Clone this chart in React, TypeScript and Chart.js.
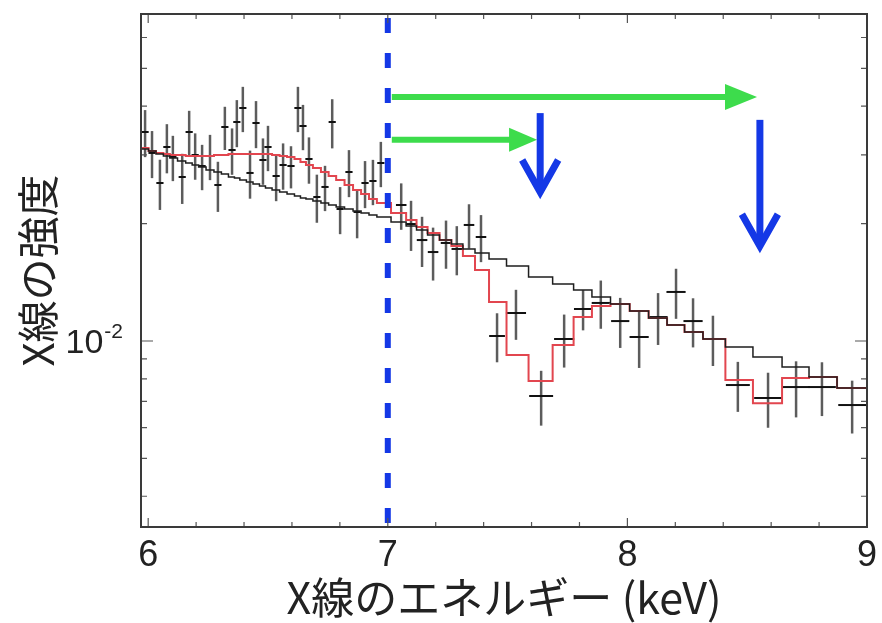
import React, { useEffect, useRef } from 'react';
import { Chart, registerables } from 'chart.js';

Chart.register(...registerables);

// ---- Data ----
const energy = [
  5.987, 6.016, 6.049, 6.078, 6.103, 6.142, 6.171, 6.196, 6.225, 6.258,
  6.291, 6.32, 6.35, 6.37, 6.395, 6.425, 6.45, 6.479, 6.5, 6.534,
  6.563, 6.596, 6.625, 6.646, 6.671, 6.704, 6.738, 6.768, 6.801, 6.838,
  6.872, 6.905, 6.938, 6.971,
  7.056, 7.097, 7.143, 7.189, 7.243, 7.288, 7.339, 7.389, 7.456, 7.535,
  7.64, 7.736, 7.815, 7.889, 7.97, 8.049, 8.128, 8.203, 8.274, 8.357,
  8.461, 8.587, 8.704, 8.812, 8.938,
];

const energyHalfWidth = [
  0.015, 0.015, 0.015, 0.015, 0.015, 0.015, 0.015, 0.015, 0.015, 0.015,
  0.015, 0.015, 0.015, 0.015, 0.015, 0.015, 0.015, 0.015, 0.015, 0.015,
  0.015, 0.015, 0.015, 0.015, 0.015, 0.015, 0.015, 0.015, 0.015, 0.015,
  0.015, 0.015, 0.015, 0.015,
  0.022, 0.022, 0.022, 0.022, 0.022, 0.022, 0.022, 0.022, 0.033, 0.042,
  0.05, 0.042, 0.038, 0.038, 0.038, 0.04, 0.04, 0.04, 0.04, 0.04,
  0.05, 0.058, 0.058, 0.058, 0.058,
];

const counts = [
  0.03435, 0.03035, 0.02542, 0.03144, 0.02964, 0.02633, 0.03435, 0.02999, 0.0281, 0.02981,
  0.02512, 0.03537, 0.03088, 0.03643, 0.03958, 0.02697, 0.03622, 0.02911, 0.03144, 0.02649,
  0.02827, 0.0281, 0.03958, 0.03558, 0.02929, 0.0234, 0.02483, 0.03643, 0.0218, 0.02712,
  0.02142, 0.02542, 0.02572, 0.0286,
  0.02232, 0.01995, 0.01815, 0.01691, 0.01784, 0.01722, 0.01984, 0.01848, 0.0103, 0.0118,
  0.007228, 0.01012, 0.01208, 0.01252, 0.01125, 0.01024, 0.01152, 0.01336, 0.01125, 0.01012,
  0.007712, 0.007143, 0.007621, 0.007621, 0.006853,
];

const countErr = [
  0.00474, 0.00419, 0.00374, 0.00453, 0.00394, 0.00387, 0.00457, 0.00408, 0.00374, 0.00396,
  0.00369, 0.00449, 0.0042, 0.00503, 0.00526, 0.0038, 0.005, 0.00396, 0.00418, 0.00366,
  0.00384, 0.00348, 0.00526, 0.00473, 0.00398, 0.0033, 0.0033, 0.00525, 0.00301, 0.00374,
  0.00308, 0.00351, 0.00342, 0.0038,
  0.00304, 0.00293, 0.00267, 0.00262, 0.00252, 0.00248, 0.00258, 0.00255, 0.00148, 0.00173,
  0.00116, 0.00157, 0.00143, 0.00177, 0.00165, 0.00171, 0.00175, 0.00196, 0.00162, 0.00149,
  0.00113, 0.00115, 0.00125, 0.0012, 0.00106,
];

// continuum-only model (black)
const continuumModel = [
  0.03107, 0.0307, 0.03016, 0.02981, 0.02946, 0.02894, 0.0286, 0.02827, 0.02794, 0.02745,
  0.02712, 0.0268, 0.02633, 0.02618, 0.02587, 0.02557, 0.02527, 0.02497, 0.02468, 0.02439,
  0.0241, 0.02382, 0.02354, 0.02326, 0.02313, 0.02286, 0.02259, 0.02232, 0.02206, 0.0218,
  0.02155, 0.02129, 0.02104, 0.0208,
  0.02019, 0.01972, 0.01926, 0.0187, 0.01816, 0.01773, 0.01722, 0.01681, 0.01623, 0.01557,
  0.01459, 0.014, 0.01351, 0.01297, 0.01244, 0.01194, 0.01145, 0.01099, 0.01055, 0.01012,
  0.00965, 0.0091, 0.00858, 0.00809, 0.00758,
];

// model with emission / absorption features (red)
const featureModel = [
  0.03125, 0.0307, 0.03034, 0.03016, 0.02999, 0.02999, 0.02981, 0.02981, 0.02981, 0.02981,
  0.02999, 0.02999, 0.03016, 0.03016, 0.03016, 0.03016, 0.03016, 0.03016, 0.03016, 0.02999,
  0.02981, 0.02964, 0.02929, 0.02877, 0.02827, 0.02777, 0.02712, 0.02649, 0.02587, 0.02512,
  0.02439, 0.02382, 0.02313, 0.02259,
  0.02129, 0.02043, 0.0196, 0.01892, 0.01816, 0.01752, 0.01652, 0.01521, 0.01259, 0.00921,
  0.0079, 0.00977, 0.01152, 0.0123, 0.01244, 0.01194, 0.01145, 0.01099, 0.01055, 0.01012,
  0.00794, 0.00693, 0.00804, 0.00809, 0.00758,
];

const energyRange = [5.97, 9.0];
const intensityRange = [0.0033358, 0.06893];
const energyTicks = [
  6, 6.2, 6.4, 6.6, 6.8, 7, 7.2, 7.4, 7.6, 7.8, 8, 8.2, 8.4, 8.6, 8.8, 9,
];
const intensityTicks = [
  0.004, 0.005, 0.006, 0.007, 0.008, 0.009, 0.01, 0.02, 0.03, 0.04, 0.05, 0.06,
];
const labelledIntensity = 0.01;
const labelBase = '10';
const labelExponent = '-2';

// annotations
const thresholdEnergy = 7.0;
const greenArrowStart = [7.0, 7.0];
const greenArrowEnd = [8.541, 7.623];
const greenArrowLevel = [0.0422, 0.0328];
const blueArrowEnergy = [7.636, 8.553];
const blueArrowTop = [0.0384, 0.0369];
const blueArrowTip = [0.0241, 0.0175];

const FONT_LATIN = '"Liberation Sans", Arial, Helvetica, sans-serif';
const FONT_CJK = '"Noto Sans CJK JP", "Liberation Sans", sans-serif';

function modelPoints(values: number[]) {
  const pts = energy.map((e, i) => ({ x: e, y: values[i] }));
  return [
    { x: energyRange[0], y: values[0] },
    ...pts,
    { x: energyRange[1], y: values[values.length - 1] },
  ];
}

const overlayPlugin = {
  id: 'overlay',
  beforeDatasetsDraw(chart: any) {
    const { ctx, chartArea, scales } = chart;
    const x = scales.x;
    const y = scales.y;
    ctx.save();
    ctx.beginPath();
    ctx.rect(chartArea.left, chartArea.top, chartArea.right - chartArea.left, chartArea.bottom - chartArea.top);
    ctx.clip();
    for (let i = 0; i < energy.length; i++) {
      const px = x.getPixelForValue(energy[i]);
      const py = y.getPixelForValue(counts[i]);
      const top = y.getPixelForValue(counts[i] + countErr[i]);
      const bot = y.getPixelForValue(counts[i] - countErr[i]);
      ctx.strokeStyle = '#5c5c5c';
      ctx.lineWidth = 2.5;
      ctx.beginPath();
      ctx.moveTo(px, top);
      ctx.lineTo(px, bot);
      ctx.stroke();
      const l = x.getPixelForValue(energy[i] - energyHalfWidth[i]);
      const r = x.getPixelForValue(energy[i] + energyHalfWidth[i]);
      ctx.strokeStyle = '#111';
      ctx.lineWidth = 2;
      ctx.beginPath();
      ctx.moveTo(l, py);
      ctx.lineTo(r, py);
      ctx.stroke();
    }
    ctx.restore();
  },
  afterDatasetsDraw(chart: any) {
    const { ctx, chartArea, scales } = chart;
    const x = scales.x;
    const y = scales.y;
    ctx.save();
    // blue dashed threshold line
    const tx = x.getPixelForValue(thresholdEnergy);
    ctx.strokeStyle = '#1438e6';
    ctx.lineWidth = 6;
    ctx.setLineDash([15, 20]);
    ctx.lineDashOffset = 31;
    ctx.beginPath();
    ctx.moveTo(tx, chartArea.top);
    ctx.lineTo(tx, chartArea.bottom);
    ctx.stroke();
    ctx.setLineDash([]);

    // green arrows
    ctx.strokeStyle = '#3ddc4c';
    ctx.fillStyle = '#3ddc4c';
    for (let i = 0; i < greenArrowStart.length; i++) {
      const x0 = x.getPixelForValue(greenArrowStart[i]) + 4;
      const x1 = x.getPixelForValue(greenArrowEnd[i]);
      const yy = y.getPixelForValue(greenArrowLevel[i]);
      const headLen = i === 0 ? 32 : 28;
      const headHalf = i === 0 ? 13 : 12;
      ctx.lineWidth = 6;
      ctx.beginPath();
      ctx.moveTo(x0, yy);
      ctx.lineTo(x1 - headLen + 2, yy);
      ctx.stroke();
      ctx.beginPath();
      ctx.moveTo(x1, yy);
      ctx.lineTo(x1 - headLen, yy - headHalf);
      ctx.lineTo(x1 - headLen, yy + headHalf);
      ctx.closePath();
      ctx.fill();
    }

    // blue downward arrows
    ctx.strokeStyle = '#1438e6';
    ctx.lineWidth = 7;
    ctx.lineCap = 'butt';
    ctx.lineJoin = 'miter';
    for (let i = 0; i < blueArrowEnergy.length; i++) {
      const bx = x.getPixelForValue(blueArrowEnergy[i]);
      const yt = y.getPixelForValue(blueArrowTop[i]);
      const yb = y.getPixelForValue(blueArrowTip[i]);
      ctx.beginPath();
      ctx.moveTo(bx, yt);
      ctx.lineTo(bx, yb - 4);
      ctx.stroke();
      ctx.beginPath();
      ctx.moveTo(bx - 18, yb - 32);
      ctx.lineTo(bx, yb);
      ctx.lineTo(bx + 18, yb - 32);
      ctx.stroke();
    }
    ctx.restore();
  },
  afterDraw(chart: any) {
    const { ctx, chartArea, scales } = chart;
    const x = scales.x;
    const y = scales.y;
    ctx.save();
    ctx.strokeStyle = '#555';
    ctx.lineWidth = 1.2;
    ctx.beginPath();
    for (const v of energyTicks) {
      const px = x.getPixelForValue(v);
      const len = Number.isInteger(v) ? 9 : 5;
      ctx.moveTo(px, chartArea.bottom);
      ctx.lineTo(px, chartArea.bottom - len);
      ctx.moveTo(px, chartArea.top);
      ctx.lineTo(px, chartArea.top + len);
    }
    for (const v of intensityTicks) {
      const py = y.getPixelForValue(v);
      const len = Math.abs(v - labelledIntensity) < 1e-12 ? 12 : 6;
      ctx.moveTo(chartArea.left, py);
      ctx.lineTo(chartArea.left + len, py);
      ctx.moveTo(chartArea.right, py);
      ctx.lineTo(chartArea.right - len, py);
    }
    ctx.stroke();
    ctx.strokeStyle = '#3a3a3a';
    ctx.lineWidth = 2;
    ctx.strokeRect(chartArea.left, chartArea.top, chartArea.right - chartArea.left, chartArea.bottom - chartArea.top);

    // y tick label with superscript exponent
    const ly = y.getPixelForValue(labelledIntensity);
    const right = chartArea.left - 18;
    ctx.fillStyle = '#222';
    ctx.textBaseline = 'alphabetic';
    ctx.textAlign = 'left';
    ctx.font = `21px ${FONT_LATIN}`;
    const wExp = ctx.measureText(labelExponent).width;
    ctx.font = `34px ${FONT_LATIN}`;
    const wBase = ctx.measureText(labelBase).width;
    const startX = right - wExp - wBase - 1;
    ctx.fillText(labelBase, startX, ly + 12);
    ctx.font = `21px ${FONT_LATIN}`;
    ctx.fillText(labelExponent, startX + wBase + 1, ly - 3);
    ctx.restore();
  },
};

export default function App() {
  const canvasRef = useRef<HTMLCanvasElement | null>(null);

  useEffect(() => {
    const canvas = canvasRef.current;
    if (!canvas) return;
    const chart = new Chart(canvas, {
      type: 'line',
      data: {
        datasets: [
          {
            label: 'model',
            data: modelPoints(featureModel),
            borderColor: '#e2464f',
            borderWidth: 2,
            pointRadius: 0,
            stepped: 'middle',
            fill: false,
            order: 1,
          },
          {
            label: 'continuum',
            data: modelPoints(continuumModel),
            borderColor: '#1e1e1e',
            borderWidth: 1.5,
            pointRadius: 0,
            stepped: 'middle',
            fill: false,
            order: 0,
          },
        ],
      },
      options: {
        responsive: false,
        animation: false,
        layout: { padding: { top: 14, right: 15, left: 0, bottom: 0 } },
        plugins: { legend: { display: false }, tooltip: { enabled: false } },
        scales: {
          x: {
            type: 'linear',
            min: energyRange[0],
            max: energyRange[1],
            afterBuildTicks: (s: any) => {
              s.ticks = energyTicks.map((v) => ({ value: v }));
            },
            afterFit: (s: any) => {
              s.height = 96;
              s.paddingLeft = 0;
              s.paddingRight = 0;
            },
            grid: { display: false, drawTicks: false },
            border: { display: false },
            ticks: {
              autoSkip: false,
              maxRotation: 0,
              padding: 7,
              color: '#222',
              font: { family: FONT_LATIN, size: 36 },
              callback: (v: any) => (Number.isInteger(v) ? String(v) : ''),
            },
            title: {
              display: true,
              text: 'X線のエネルギー (keV)',
              color: '#222',
              font: { family: FONT_CJK, size: 43 },
              padding: { top: 0, bottom: 0 },
            },
          },
          y: {
            type: 'logarithmic',
            min: intensityRange[0],
            max: intensityRange[1],
            afterBuildTicks: (s: any) => {
              s.ticks = intensityTicks.map((v) => ({ value: v }));
            },
            afterFit: (s: any) => {
              s.width = 141;
              s.paddingTop = 0;
              s.paddingBottom = 0;
            },
            grid: { display: false, drawTicks: false },
            border: { display: false },
            ticks: {
              autoSkip: false,
              padding: 14,
              color: '#222',
              font: { family: FONT_LATIN, size: 32 },
              callback: () => '',
            },
            title: {
              display: true,
              text: 'X線の強度',
              color: '#222',
              font: { family: FONT_CJK, size: 42 },
              padding: { top: 13, bottom: 0 },
            },
          },
        },
      },
      plugins: [overlayPlugin],
    } as any);
    return () => chart.destroy();
  }, []);

  return (
    <div style={{ position: 'fixed', left: 0, top: 0, width: 882, height: 623, background: '#fff' }}>
      <canvas ref={canvasRef} width={882} height={623} style={{ display: 'block' }} />
    </div>
  );
}
